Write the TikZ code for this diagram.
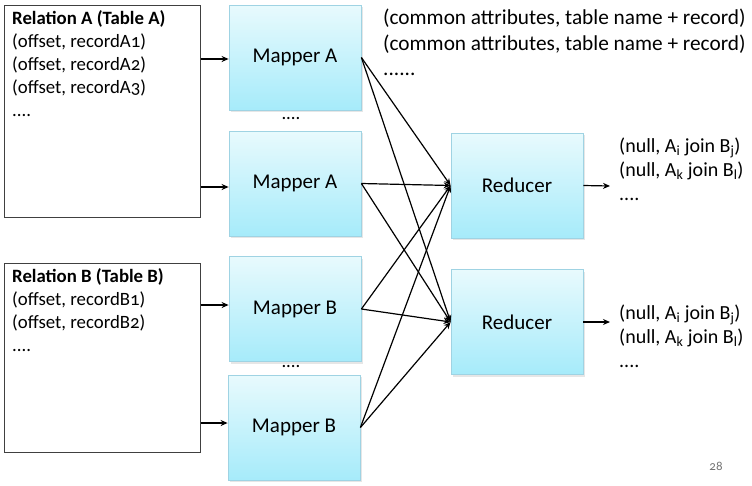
\documentclass[tikz,border=0pt]{standalone}
\usepackage{fontspec}
\setmainfont{Carlito}[Numbers=OldStyle]
\usetikzlibrary{arrows.meta,shadows}
\definecolor{boxtop}{HTML}{E8FAFD}
\definecolor{boxbot}{HTML}{A6EBFA}
\definecolor{boxedge}{HTML}{9FD3E3}
\begin{document}
\begin{tikzpicture}[x=1pt,y=-1pt,
  rel/.style={draw=black!75,line width=1pt,fill=white,minimum width=196pt,minimum height=#1,inner sep=0pt},
  proc/.style={draw=boxedge,line width=0.8pt,top color=boxtop,bottom color=boxbot,
    minimum width=132pt,minimum height=105pt,inner sep=0pt,font=\fontsize{21}{25}\selectfont,
    drop shadow={shadow xshift=1.5pt,shadow yshift=-2pt,opacity=0.2}},
  txt/.style={font=\fontsize{18.8}{23}\selectfont,align=left,inner sep=0pt},
  otxt/.style={font=\fontsize{20}{24}\selectfont,align=left,inner sep=0pt},
  big/.style={font=\fontsize{21.3}{25.5}\selectfont,align=left,inner sep=0pt},
  conn/.style={line width=1.2pt,-{Stealth[length=7pt,width=6pt]}}]
\useasboundingbox (0,0) rectangle (752,485);
% relation boxes
\node[rel=212pt] (relA) at (102,111) {};
\node[rel=189pt] (relB) at (102,357.5) {};
\node[txt,anchor=north west] (relAtxt) at (12,10) {\textbf{Relation A (Table A)}\\(offset, recordA1)\\(offset, recordA2)\\(offset, recordA3)\\....};
\node[txt,anchor=north west] (relBtxt) at (12,268) {\textbf{Relation B (Table B)}\\(offset, recordB1)\\(offset, recordB2)\\....};
% mappers
\node[proc] (mA1) at (295,57.5) {Mapper A};
\node[proc] (mA2) at (295,183.5) {Mapper A};
\node[proc] (mB1) at (295,309) {Mapper B};
\node[proc] (mB2) at (294,427.5) {Mapper B};
\node[txt] (dotsA) at (291,119) {....};
\node[txt] (dotsB) at (291,367) {....};
% reducers
\node[proc] (r1) at (517,185.5) {Reducer};
\node[proc] (r2) at (517,322) {Reducer};
% inputs
\draw[conn] (relA.east |- 0,59) -- (mA1.west |- 0,59);
\draw[conn] (relA.east |- 0,187) -- (mA2.west |- 0,187);
\draw[conn] (relB.east |- 0,305) -- (mB1.west |- 0,305);
\draw[conn] (relB.east |- 0,423) -- (mB2.west |- 0,423);
% shuffle
\foreach \m in {mA1,mA2,mB1,mB2}{
  \draw[conn] (\m.east) -- (r1.west);
  \draw[conn] (\m.east) -- (r2.west);
}
% outputs
\coordinate (o1) at (610,186);
\coordinate (o2) at (610,322);
\draw[conn] (r1.east) -- (o1);
\draw[conn] (r2.east) -- (o2);
\node[otxt,anchor=north west] (out1) at (619,138) {(null, A\textsubscript{i} join B\textsubscript{j})\\(null, A\textsubscript{k} join B\textsubscript{l})\\....};
\node[otxt,anchor=north west] (out2) at (619,305) {(null, A\textsubscript{i} join B\textsubscript{j})\\(null, A\textsubscript{k} join B\textsubscript{l})\\....};
\node[big,anchor=north west] (mapout) at (383,9) {(common attributes, table name + record)\\(common attributes, table name + record)\\......};
\node[font=\fontsize{13}{15}\selectfont,text=black!55,inner sep=0pt] (page) at (716,466) {28};
\end{tikzpicture}
\end{document}
